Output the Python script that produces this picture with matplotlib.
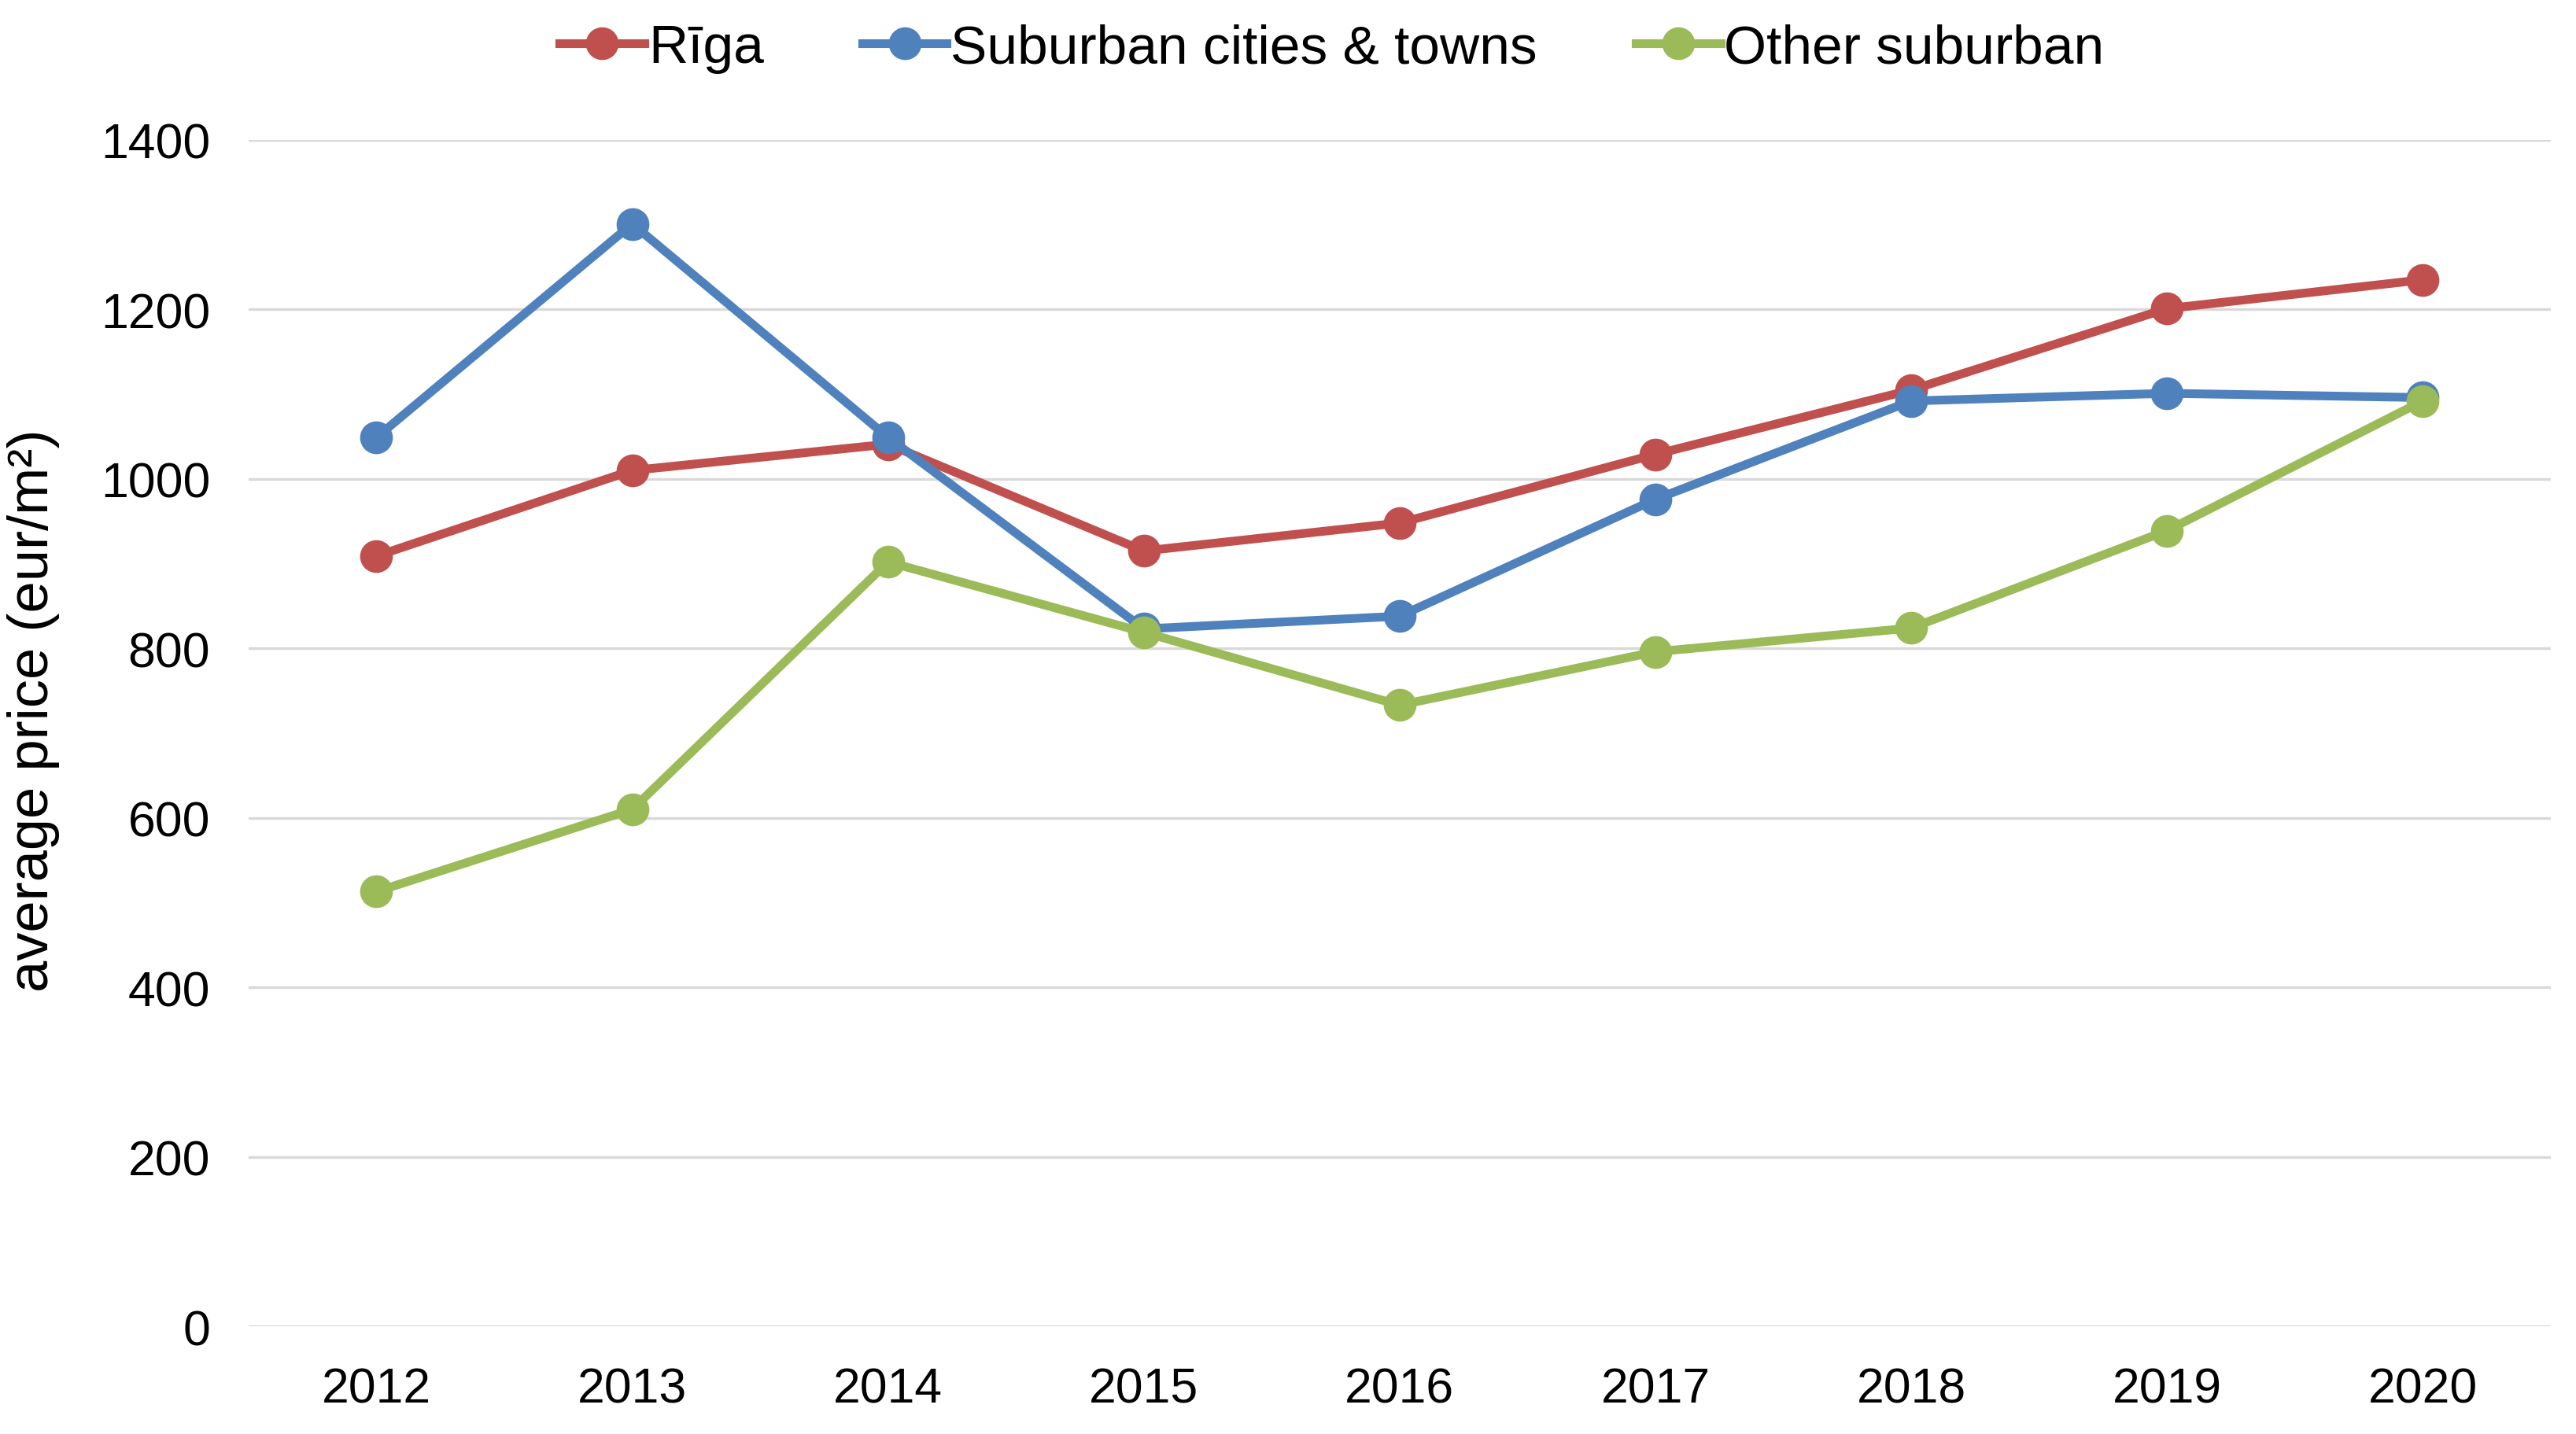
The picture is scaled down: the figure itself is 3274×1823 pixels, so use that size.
import numpy as np
import matplotlib
matplotlib.use("Agg")
import matplotlib.pyplot as plt

plt.rcParams['font.family'] = ['Liberation Sans', 'DejaVu Sans']

years = ["2012", "2013", "2014", "2015", "2016", "2017", "2018", "2019", "2020"]
riga = [909, 1010, 1041, 915, 948, 1029, 1105, 1201, 1235]
suburban_towns = [1049, 1301, 1049, 823, 838, 976, 1092, 1101, 1096]
other_suburban = [513, 610, 902, 819, 733, 796, 824, 939, 1092]

names = ["Rīga", "Suburban cities & towns", "Other suburban"]
colors = ["#C0504D", "#4F81BD", "#9BBB59"]

fig = plt.figure(figsize=(32.74, 18.24), dpi=100)
ax = fig.add_axes([0.0965, 0.0751, 0.8937, 0.8268])

x = np.arange(len(years))
for vals, name, col in zip([riga, suburban_towns, other_suburban], names, colors):
    ax.plot(x, vals, color=col, lw=8, marker="o", ms=29, label=name,
            solid_joinstyle="round")

ax.set_xlim(-0.5, len(years) - 0.5)
ax.set_ylim(0, 1400)
ax.set_yticks(np.arange(0, 1401, 200))
ax.set_xticks(x)
ax.set_xticklabels(years)
ax.grid(axis="y", color="#D9D9D9", lw=2.5)
ax.set_axisbelow(True)
for s in ax.spines.values():
    s.set_visible(False)
ax.tick_params(axis="both", length=0, labelsize=45)
ax.tick_params(axis="y", pad=35)
ax.tick_params(axis="x", pad=36)
ax.set_ylabel("average price (eur/m²)", fontsize=52, labelpad=38)
ax.yaxis.set_label_coords(-0.082, 0.52)

fig.legend(loc="center", bbox_to_anchor=(0.5171, 0.966), ncol=3, frameon=False,
           fontsize=50, handlelength=1.55, handletextpad=0.07, columnspacing=1.8)

fig.savefig("out.png", dpi=100)
